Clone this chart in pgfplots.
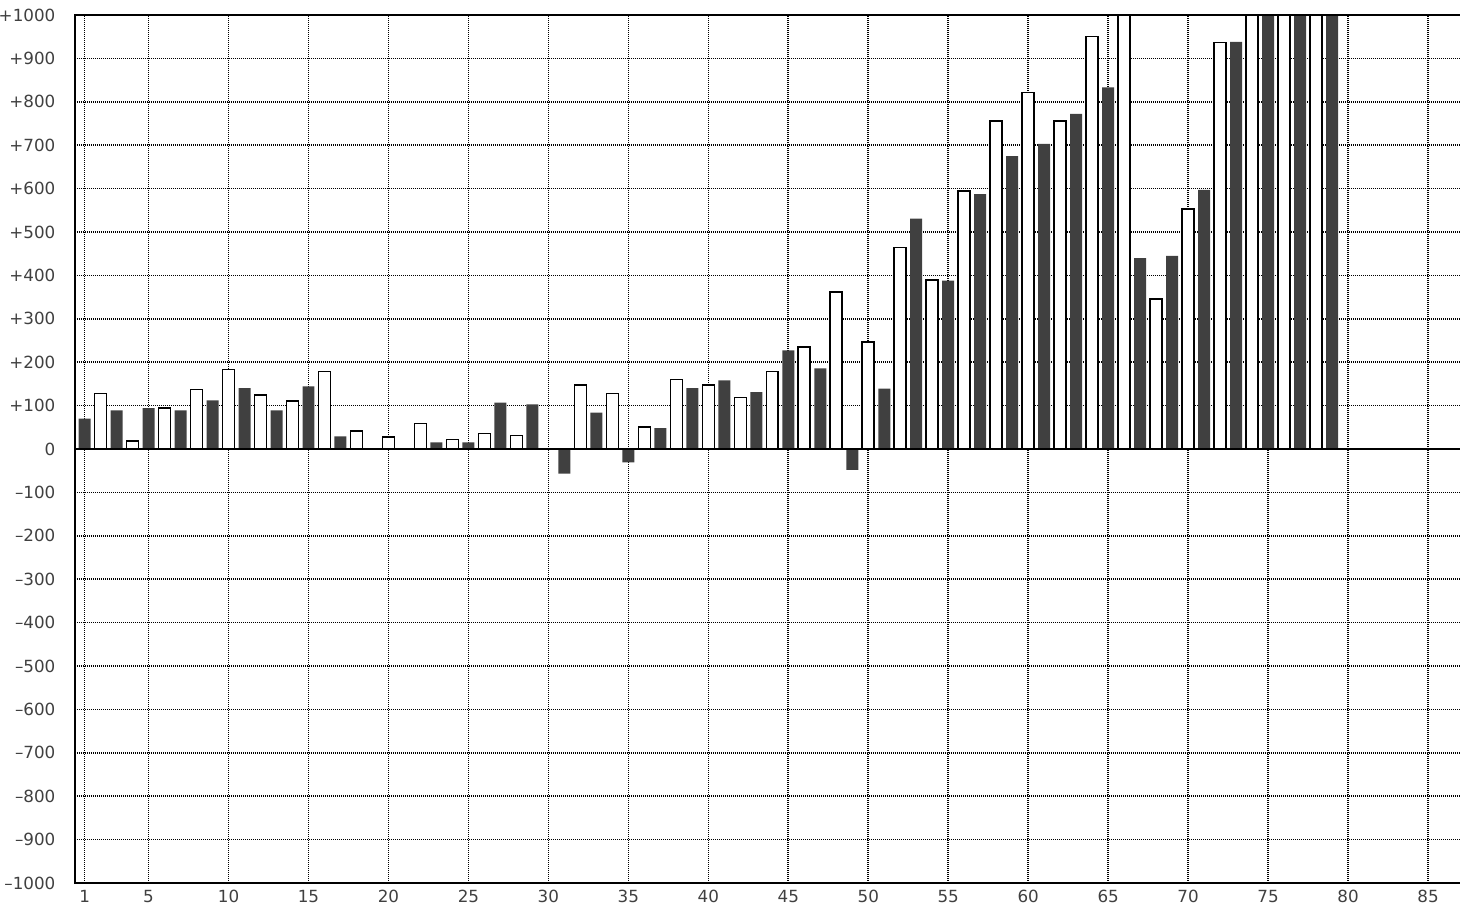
\documentclass[border=0pt]{standalone}
\usepackage{fontspec}
\setmainfont{DejaVu Sans}
\usepackage{pgfplots}
\pgfplotsset{compat=1.18}
\definecolor{darkbar}{HTML}{404040}
\begin{document}
\begin{tikzpicture}
\begin{axis}[
  scale only axis,
  width=692.5bp, height=434bp,
  xmin=0.4, xmax=87,
  ymin=-1000, ymax=1000,
  axis line style={draw=none},
  major tick length=0pt,
  xtick={1,5,10,15,20,25,30,35,40,45,50,55,60,65,70,75,80,85},
  xticklabels={1,5,10,15,20,25,30,35,40,45,50,55,60,65,70,75,80,85},
  ytick={-1000,-900,-800,-700,-600,-500,-400,-300,-200,-100,0,100,200,300,400,500,600,700,800,900,1000},
  yticklabels={–1000,–900,–800,–700,–600,–500,–400,–300,–200,–100,0,+100,+200,+300,+400,+500,+600,+700,+800,+900,+1000},
  xmajorgrids, ymajorgrids,
  grid style={black, line width=0.8bp, dash pattern=on 0.55bp off 0.45bp},
  tick label style={font=\fontsize{8.4}{10}\selectfont, text=black!75},
  yticklabel style={xshift=-6.3bp},
  xticklabel style={yshift=0bp},
  clip mode=individual,
]
\addplot[ybar, bar width=0.75, bar shift=0pt, fill=darkbar, draw=none] coordinates {
(1,70) (3,89) (5,94) (7,89) (9,112) (11,140) (13,89) (15,144) (17,29)
(23,15) (25,15) (27,107) (29,103) (31,-57) (33,84) (35,-31) (37,48) (39,140)
(41,158) (43,131) (45,227) (47,186) (49,-48) (51,139) (53,531) (55,388) (57,587)
(59,675) (61,703) (63,772) (65,833) (67,440) (69,445) (71,597) (73,938)
(75,1100) (77,1100) (79,1100)
};
\addplot[ybar, bar width=0.75, bar shift=0pt, fill=white, draw=black, line width=0.8bp] coordinates {
(2,128) (4,18) (6,95) (8,137) (10,183) (12,124) (14,110) (16,179) (18,41) (20,27)
(22,59) (24,22) (26,36) (28,31) (32,147) (34,128) (36,50) (38,160) (40,147)
(42,119) (44,179) (46,235) (48,362) (50,246) (52,464) (54,390) (56,594) (58,756)
(60,821) (62,756) (64,950) (66,1100) (68,345) (70,553) (72,937) (74,1100)
(76,1100) (78,1100)
};
\draw[black, line width=1.1bp] (rel axis cs:0,0.5) -- (rel axis cs:1,0.5);
\draw[black, line width=1.3bp] (rel axis cs:1,0) -- (rel axis cs:0,0) -- (rel axis cs:0,1) -- (rel axis cs:1,1);
\end{axis}
\pgfresetboundingbox
\path[use as bounding box] ([shift={(-37.5bp,-10.5bp)}]current axis.south west) rectangle ([shift={(0bp,7.5bp)}]current axis.north east);
\end{tikzpicture}
\end{document}
